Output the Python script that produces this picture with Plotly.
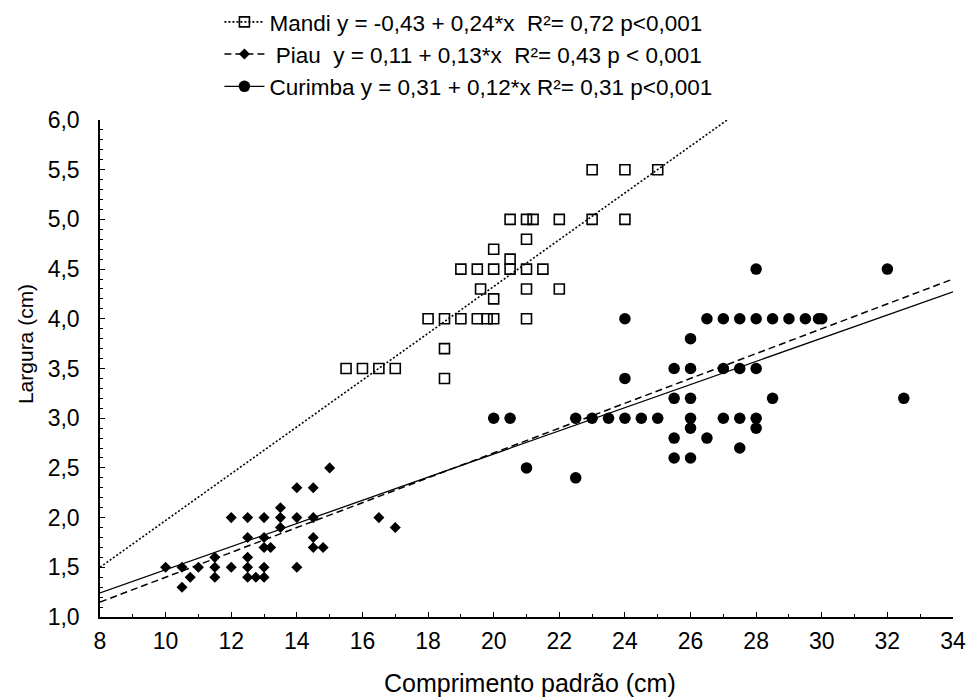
import plotly.graph_objects as go

# ---------------- data ----------------
species = ["Mandi", "Piau", "Curimba"]
legend_labels = [
    "Mandi y = -0,43 + 0,24*x\u00a0 R²= 0,72 p<0,001",
    "\u00a0Piau\u00a0 y = 0,11 + 0,13*x\u00a0 R²= 0,43 p < 0,001",
    "Curimba y = 0,31 + 0,12*x R²= 0,31 p<0,001",
]
x_title = "Comprimento padrão (cm)"
y_title = "Largura (cm)"

mandi_x = [23, 24, 25,
           20.5, 21, 21.2, 22, 23, 24,
           21, 20, 20.5,
           19, 19.5, 20, 20.5, 21, 21.5,
           19.6, 21, 22,
           20,
           18, 18.5, 19, 19.5, 19.8, 20, 21,
           18.5, 18.5,
           15.5, 16, 16.5, 17]
mandi_y = [5.5, 5.5, 5.5,
           5.0, 5.0, 5.0, 5.0, 5.0, 5.0,
           4.8, 4.7, 4.6,
           4.5, 4.5, 4.5, 4.5, 4.5, 4.5,
           4.3, 4.3, 4.3,
           4.2,
           4.0, 4.0, 4.0, 4.0, 4.0, 4.0, 4.0,
           3.7, 3.4,
           3.5, 3.5, 3.5, 3.5]

piau_x = [15,
          14, 14.5,
          13.5,
          12, 12.5, 13, 13.5, 14, 14.5, 16.5,
          13.5, 17,
          12.5, 13, 14.5,
          13, 13.2, 14.5, 14.8,
          11.5, 12.5,
          10, 10.5, 11, 11.5, 12, 12.5, 13, 14,
          10.75, 11.5, 12.5, 12.75, 13,
          10.5]
piau_y = [2.5,
          2.3, 2.3,
          2.1,
          2.0, 2.0, 2.0, 2.0, 2.0, 2.0, 2.0,
          1.9, 1.9,
          1.8, 1.8, 1.8,
          1.7, 1.7, 1.7, 1.7,
          1.6, 1.6,
          1.5, 1.5, 1.5, 1.5, 1.5, 1.5, 1.5, 1.5,
          1.4, 1.4, 1.4, 1.4, 1.4,
          1.3]

curimba_x = [28, 32,
             24, 26.5, 27, 27.5, 28, 28.5, 29, 29.5, 29.9, 30,
             26,
             25.5, 26, 27, 27.5, 28,
             24,
             25.5, 26, 28.5, 32.5,
             20, 20.5, 22.5, 23, 23.5, 24, 24.5, 25, 26, 27, 27.5, 28,
             26, 28,
             25.5, 26.5,
             27.5,
             25.5, 26,
             21,
             22.5]
curimba_y = [4.5, 4.5,
             4.0, 4.0, 4.0, 4.0, 4.0, 4.0, 4.0, 4.0, 4.0, 4.0,
             3.8,
             3.5, 3.5, 3.5, 3.5, 3.5,
             3.4,
             3.2, 3.2, 3.2, 3.2,
             3.0, 3.0, 3.0, 3.0, 3.0, 3.0, 3.0, 3.0, 3.0, 3.0, 3.0, 3.0,
             2.9, 2.9,
             2.8, 2.8,
             2.7,
             2.6, 2.6,
             2.5,
             2.4]

# regression lines as drawn in the picture (intercept, slope)
fit_intercepts = [-0.383, 0.15, 0.31]
fit_slopes = [0.2354, 0.125, 0.1165]
x_range = [8, 34]
y_range = [1, 6]

# ---------------- styling ----------------
FONT = "Liberation Sans, Arial, sans-serif"
xs = [mandi_x, piau_x, curimba_x]
ys = [mandi_y, piau_y, curimba_y]
markers = [
    dict(symbol="square-open", size=10, color="black", line=dict(width=1.6, color="black")),
    dict(symbol="diamond", size=8.5, color="black", line=dict(width=0)),
    dict(symbol="circle", size=11.5, color="black", line=dict(width=0)),
]
lines = [
    dict(color="black", width=1.6, dash="2px,2px"),
    dict(color="black", width=1.5, dash="7px,4px"),
    dict(color="black", width=1.3, dash="solid"),
]

fig = go.Figure()

# fit lines first
for i in range(3):
    lx = x_range
    ly = [fit_intercepts[i] + fit_slopes[i] * v for v in lx]
    fig.add_trace(go.Scatter(x=lx, y=ly, mode="lines", line=lines[i],
                             showlegend=False, hoverinfo="skip"))

# points
for i in range(3):
    fig.add_trace(go.Scatter(x=xs[i], y=ys[i], mode="markers", marker=markers[i],
                             name=species[i], showlegend=False, cliponaxis=False))

# legend entries
for i in range(3):
    fig.add_trace(go.Scatter(x=[None], y=[None], mode="lines+markers",
                             marker=markers[i], line=lines[i],
                             name=legend_labels[i], showlegend=True))

axis_common = dict(
    showline=True, linecolor="black", linewidth=1.5,
    ticks="inside", ticklen=5, tickwidth=1, tickcolor="black",
    showgrid=False, zeroline=False, mirror=False, automargin=False,
    tickfont=dict(family=FONT, size=23, color="black"),
)

fig.update_layout(
    width=972, height=700,
    margin=dict(l=100, r=19, t=120, b=83, autoexpand=False),
    plot_bgcolor="white", paper_bgcolor="white",
    separators=",.",
    font=dict(family=FONT, color="black"),
    xaxis=dict(range=x_range, tick0=8, dtick=2,
               minor=dict(dtick=1, ticks="inside", ticklen=3, tickcolor="black"),
               ticklabelstandoff=3,
               **axis_common),
    yaxis=dict(range=y_range, tick0=1, dtick=0.5, tickformat=".1f",
               minor=dict(dtick=0.1, ticks="inside", ticklen=3, tickcolor="black"),
               ticklabelstandoff=14,
               **axis_common),
    legend=dict(x=0.14, y=0.999, xref="paper", yref="container",
                xanchor="left", yanchor="top",
                bgcolor="rgba(0,0,0,0)",
                font=dict(family=FONT, size=22.5, color="black"),
                itemwidth=40, tracegroupgap=0, traceorder="normal"),
    annotations=[
        dict(text=x_title, xref="paper", yref="paper", x=0.504, y=-0.133,
             xanchor="center", yanchor="middle", showarrow=False,
             font=dict(family=FONT, size=25, color="black")),
        dict(text=y_title, xref="paper", yref="paper", x=-0.088, y=0.549,
             xanchor="center", yanchor="middle", showarrow=False, textangle=-90,
             font=dict(family=FONT, size=21, color="black")),
    ],
)

fig.write_html("out.html", config={"displayModeBar": False},
               post_script="document.body.style.margin='0px';")
